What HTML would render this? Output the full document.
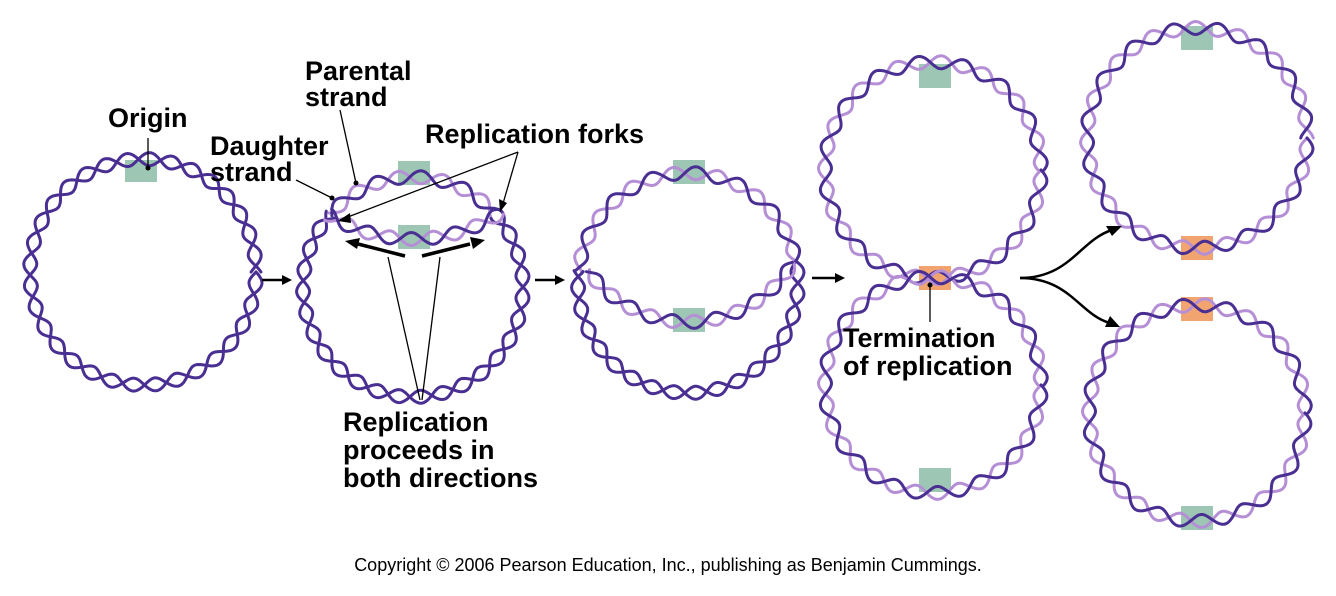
<!DOCTYPE html>
<html><head><meta charset="utf-8"><style>
body{margin:0;background:#fff;width:1336px;height:596px;overflow:hidden;font-family:"Liberation Sans",sans-serif}
svg{position:absolute;left:0;top:0}
.l{font-family:"Liberation Sans",sans-serif;font-weight:bold;font-size:27px;fill:#000}
</style></head><body>
<svg id="s" width="1336" height="596" viewBox="0 0 1336 596">
<g id="boxes">
<rect x="125" y="160" width="32" height="22" fill="#9ec6b4"/>
<rect x="398" y="161" width="32" height="24" fill="#9ec6b4"/>
<rect x="398" y="225" width="32" height="24" fill="#9ec6b4"/>
<rect x="673" y="160" width="32" height="24" fill="#9ec6b4"/>
<rect x="673" y="308" width="32" height="24" fill="#9ec6b4"/>
<rect x="919" y="64" width="32" height="24" fill="#9ec6b4"/>
<rect x="919" y="266" width="32" height="24" fill="#f2a470"/>
<rect x="919" y="468" width="32" height="24" fill="#9ec6b4"/>
<rect x="1181" y="26" width="32" height="24" fill="#9ec6b4"/>
<rect x="1181" y="236" width="32" height="24" fill="#f2a470"/>
<rect x="1181" y="297" width="32" height="24" fill="#f2a470"/>
<rect x="1181" y="506" width="32" height="24" fill="#9ec6b4"/>
</g>
<g id="h" fill="none" stroke-width="3" stroke-linecap="round"></g>
<g stroke="#000" fill="none" stroke-width="1.3">
<line x1="148" y1="138" x2="148" y2="168"/>
<line x1="340" y1="110" x2="356" y2="183"/>
<line x1="296" y1="180" x2="332" y2="198"/>
<line x1="518" y1="152" x2="340" y2="220"/>
<line x1="518" y1="152" x2="502" y2="207"/>
<line x1="388" y1="257" x2="420" y2="400"/>
<line x1="440" y1="257" x2="422" y2="400"/>
<line x1="930" y1="285" x2="930" y2="322"/>
<path d="M1020 278 C1070 278 1080 240 1112 230" stroke-width="2.5"/>
<path d="M1020 278 C1070 278 1080 315 1110 323" stroke-width="2.5"/>
<line x1="262" y1="280" x2="285" y2="280" stroke-width="2.5"/>
<line x1="535" y1="280" x2="558" y2="280" stroke-width="2.5"/>
<line x1="812" y1="278" x2="836" y2="278" stroke-width="2.5"/>
<line x1="405" y1="256" x2="358" y2="244" stroke-width="3.5"/>
<line x1="422" y1="256" x2="470" y2="244" stroke-width="3.5"/>
</g>
<g fill="#000">
<circle cx="148" cy="168" r="2.5"/><circle cx="356" cy="183" r="2.5"/><circle cx="332" cy="198" r="2.5"/><circle cx="930" cy="285" r="2.5"/>
<polygon points="292,280 282,275 282,285"/><polygon points="565,280 555,275 555,285"/><polygon points="845,278 835,273 835,283"/>
<polygon points="338,221 350,213 351,223"/><polygon points="500,212 499,199 507,203"/>
<polygon points="345,241 360,238 357,249"/><polygon points="485,240 470,237 473,249"/>
<polygon points="1122,226 1106,226 1112,236"/><polygon points="1120,327 1110,316 1105,327"/>
</g>
<text class="l" x="108" y="127">Origin</text>
<text class="l" x="305" y="80">Parental</text><text class="l" x="305" y="106">strand</text>
<text class="l" x="210" y="155">Daughter</text><text class="l" x="210" y="181">strand</text>
<text class="l" x="425" y="143">Replication forks</text>
<text class="l" x="343" y="431">Replication</text><text class="l" x="343" y="459">proceeds in</text><text class="l" x="343" y="487">both directions</text>
<text class="l" x="843" y="347">Termination</text><text class="l" x="843" y="375">of replication</text>
<text x="668" y="571" text-anchor="middle" style="font-family:'Liberation Sans',sans-serif;font-size:18px">Copyright © 2006 Pearson Education, Inc., publishing as Benjamin Cummings.</text>
</svg>
<script>
var g=document.getElementById('h'),D='#4a2f93',L='#b58fd6';
function strand(cx,cy,R,a0,a1,ph,col){var s=R*(a1-a0),n=Math.max(20,Math.ceil(Math.abs(s)/2)),d='';
for(var i=0;i<=n;i++){var a=a0+(a1-a0)*i/n,r=R+6.5*Math.sin(2*Math.PI*R*a/44+ph);d+=(i?'L':'M')+(cx+r*Math.cos(a)).toFixed(1)+' '+(cy+r*Math.sin(a)).toFixed(1);}
var p=document.createElementNS('http://www.w3.org/2000/svg','path');p.setAttribute('d',d);p.setAttribute('stroke',col);g.appendChild(p);}
function hx(cx,cy,R,a0,a1,c1,c2){strand(cx,cy,R,a0,a1,Math.PI,c2);strand(cx,cy,R,a0,a1,0,c1);}
var T=2*Math.PI;
hx(143,272,113,0,T,D,D);
hx(413,287,110,-2.42,-0.72,D,L);hx(413,287,110,-0.72,3.86,D,D);hx(413,79,160,0.98,2.13,D,L);
hx(688,283,110,-3.03,-0.2,D,L);hx(688,283,110,-0.2,3.25,D,D);hx(688,199,123,0.545,2.52,D,L);
hx(933,170,108,0,T,D,L);hx(933,385,108,0,T,D,L);
hx(1197,138,110,0,T,D,L);hx(1197,413,108,0,T,D,L);
</script>
</body></html>
